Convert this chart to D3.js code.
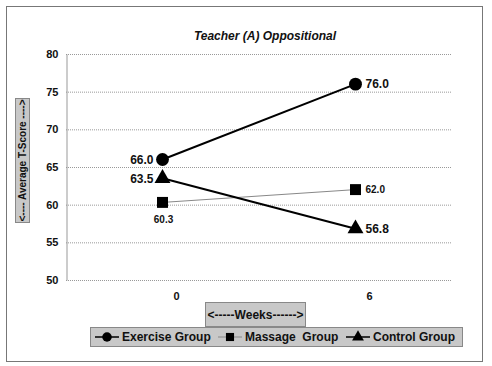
<!DOCTYPE html>
<html>
<head>
<meta charset="utf-8">
<script src="https://cdn.jsdelivr.net/npm/d3@7"></script>
<style>
  body { margin: 0; background: #fff; }
  svg text { font-family: "Liberation Sans", Arial, sans-serif; font-weight: bold; fill: #111; }
</style>
</head>
<body>
<div id="container"></div>
<script>
// chart data
const weeks = ['0', '6'];
const exercise = [66.0, 76.0];
const massage = [60.3, 62.0];
const control = [63.5, 56.8];
const yTicks = [50, 55, 60, 65, 70, 75, 80];

const w = 492, h = 366;
const plotLeft = 66, plotRight = 452, plotTop = 54, plotBottom = 280;

const svg = d3.select('#container')
  .append('svg')
  .attr('width', w)
  .attr('height', h);

// outer frame
svg.append('rect')
  .attr('x', 6.5).attr('y', 6.5)
  .attr('width', 476).attr('height', 355)
  .attr('fill', '#fff').attr('stroke', '#777').attr('stroke-width', 1);

const xScale = d3.scaleBand().domain(weeks).range([plotLeft, plotRight]);
const yScale = d3.scaleLinear().domain([50, 80]).range([plotBottom, plotTop]);
const xPos = d => xScale(d) + xScale.bandwidth() / 2;

// gridlines
svg.append('g')
  .selectAll('line')
  .data(yTicks)
  .join('line')
  .attr('x1', plotLeft).attr('x2', plotRight)
  .attr('y1', d => yScale(d) + 0.5).attr('y2', d => yScale(d) + 0.5)
  .attr('stroke', '#999').attr('stroke-dasharray', '1,1');

// y axis
const yAxis = d3.axisLeft(yScale).tickValues(yTicks).tickSize(0).tickPadding(8);
const gy = svg.append('g')
  .attr('transform', 'translate(' + (plotLeft + 0.5) + ',0)')
  .call(yAxis);
gy.select('.domain').attr('stroke', '#999');
gy.selectAll('text').style('font-size', '11px');

// x axis (labels only)
const xAxis = d3.axisBottom(xScale).tickSize(0).tickPadding(12);
const gx = svg.append('g')
  .attr('transform', 'translate(0,' + plotBottom + ')')
  .call(xAxis);
gx.select('.domain').remove();
gx.selectAll('text').style('font-size', '11px').attr('dx', 14);

// title
svg.append('text')
  .attr('x', 265).attr('y', 40)
  .attr('text-anchor', 'middle')
  .style('font-size', '12px').style('font-style', 'italic')
  .text('Teacher (A) Oppositional');

// y title box
svg.append('rect')
  .attr('x', 15.5).attr('y', 98.5).attr('width', 14).attr('height', 124)
  .attr('fill', '#c8c8c8').attr('stroke', '#888');
svg.append('text')
  .attr('transform', 'translate(26,160.5) rotate(-90)')
  .attr('text-anchor', 'middle')
  .style('font-size', '10px')
  .text('<---- Average T-Score ---->');

// x title box
svg.append('rect')
  .attr('x', 205.5).attr('y', 302.5).attr('width', 100).attr('height', 24)
  .attr('fill', '#c8c8c8').attr('stroke', '#888');
svg.append('text')
  .attr('x', 255.5).attr('y', 319)
  .attr('text-anchor', 'middle')
  .style('font-size', '12px')
  .text('<-----Weeks------>');

const line = d3.line().x((d, i) => xPos(weeks[i])).y(d => yScale(d));

const series = [
  { name: 'Exercise Group', values: exercise, shape: d3.symbolCircle, size: 130, color: '#000', width: 2 },
  { name: 'Massage  Group', values: massage, shape: d3.symbolSquare, size: 120, color: '#888', width: 1 },
  { name: 'Control Group', values: control, shape: d3.symbolTriangle, size: 110, color: '#000', width: 2 }
];

series.forEach(s => {
  svg.append('path')
    .attr('d', line(s.values))
    .attr('fill', 'none')
    .attr('stroke', s.color)
    .attr('stroke-width', s.width);
  svg.append('g')
    .selectAll('path')
    .data(s.values)
    .join('path')
    .attr('transform', (d, i) => 'translate(' + xPos(weeks[i]) + ',' + yScale(d) + ')')
    .attr('d', d3.symbol().type(s.shape).size(s.size))
    .attr('fill', '#000');
});

// data labels
const lbl = (x, y, txt, anchor, size) => svg.append('text')
  .attr('x', x).attr('y', y).attr('text-anchor', anchor)
  .attr('dy', '0.35em')
  .style('font-size', size + 'px')
  .text(txt);

lbl(xPos('0') - 9, yScale(exercise[0]), exercise[0].toFixed(1), 'end', 12);
lbl(xPos('6') + 10, yScale(exercise[1]), exercise[1].toFixed(1), 'start', 12);
lbl(xPos('0') - 9, yScale(control[0]), control[0].toFixed(1), 'end', 12);
lbl(xPos('6') + 10, yScale(control[1]), control[1].toFixed(1), 'start', 12);
lbl(xPos('0') + 1, yScale(massage[0]) + 17, massage[0].toFixed(1), 'middle', 10);
lbl(xPos('6') + 10, yScale(massage[1]), massage[1].toFixed(1), 'start', 10);

// legend
svg.append('rect')
  .attr('x', 90.5).attr('y', 327.5).attr('width', 372).attr('height', 19)
  .attr('fill', '#c8c8c8').attr('stroke', '#888');

const legendX = [95, 218, 346];
series.forEach((s, i) => {
  const g = svg.append('g').attr('transform', 'translate(' + legendX[i] + ',337)');
  g.append('line')
    .attr('x1', 0).attr('x2', 24)
    .attr('stroke', s.color).attr('stroke-width', s.width === 2 ? 1.5 : 1);
  g.append('path')
    .attr('transform', 'translate(12,0)')
    .attr('d', d3.symbol().type(s.shape).size(s.size * 0.55))
    .attr('fill', '#000');
  g.append('text')
    .attr('x', 27).attr('dy', '0.35em')
    .style('font-size', '12px')
    .style('white-space', 'pre')
    .text(s.name);
});
</script>
</body>
</html>
